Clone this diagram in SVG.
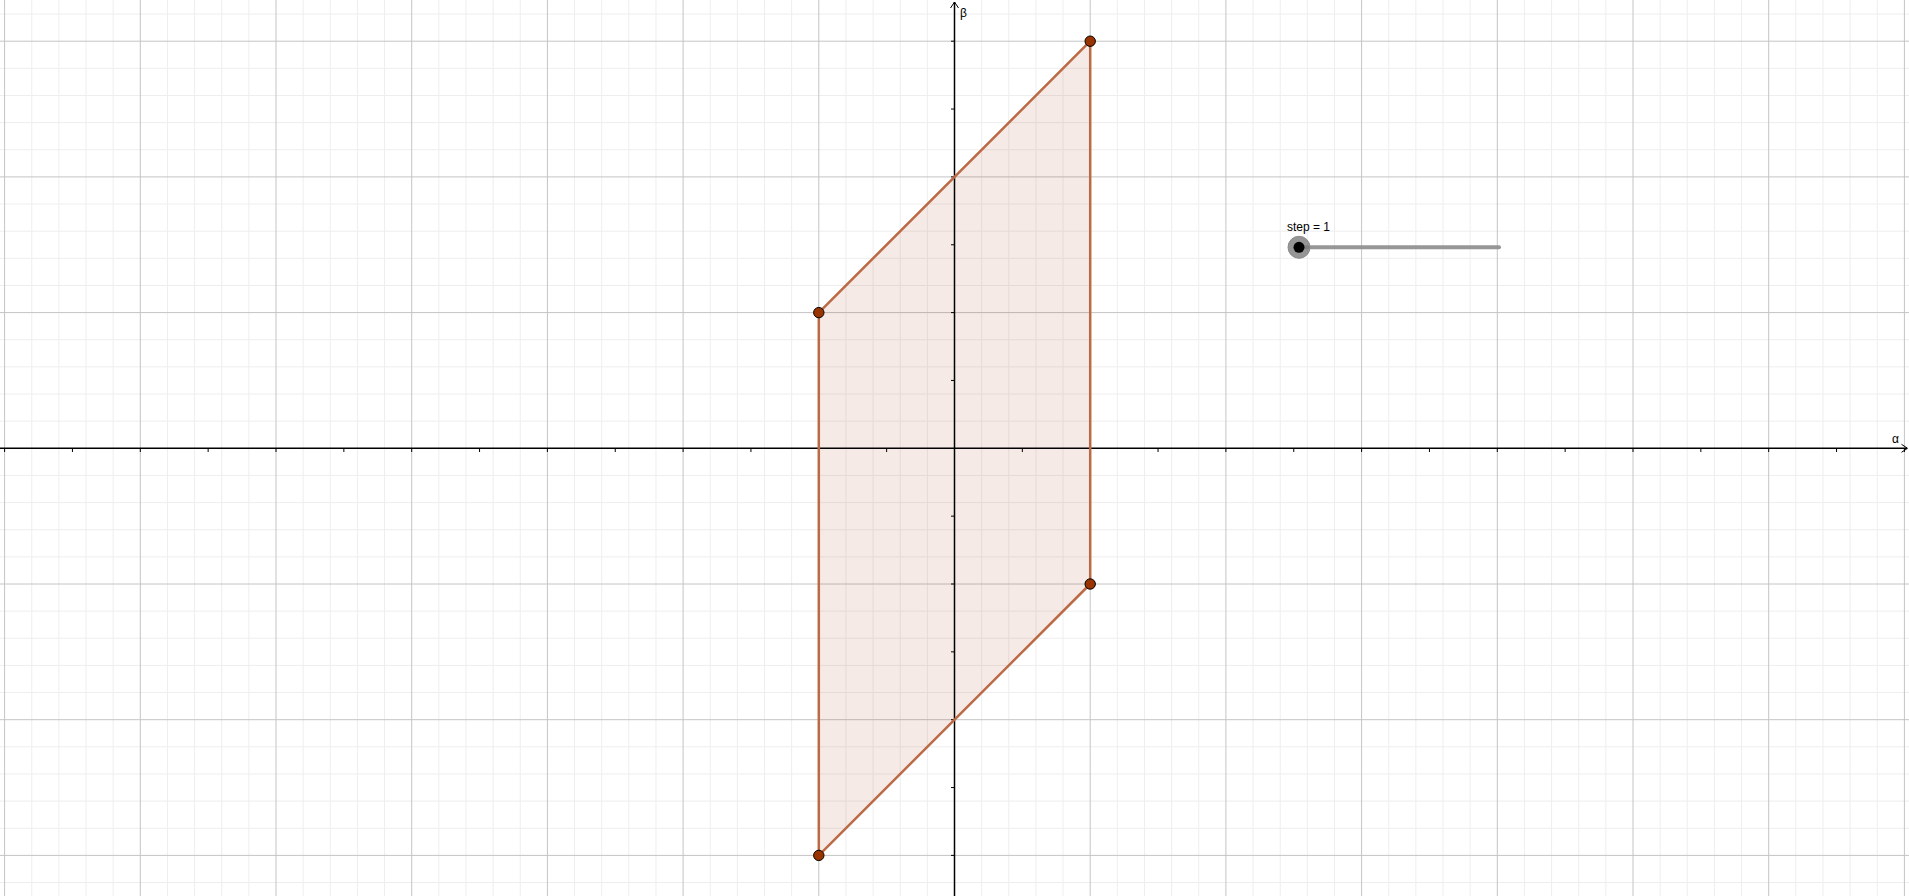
<svg xmlns="http://www.w3.org/2000/svg" width="1909" height="896" viewBox="0 0 1909 896">
<style>
.minor{stroke:#eeeeee;stroke-width:1;fill:none}
.major{stroke:#c4c4c4;stroke-width:1;fill:none}
.axis{stroke:#000;stroke-width:1.5;fill:none}
.tick{stroke:#000;stroke-width:1;fill:none}
.lbl{font-family:"Liberation Sans",Arial,sans-serif;font-size:12px;fill:#000}
.edge{stroke:#bc6a45;stroke-width:2.5;fill:none;stroke-linejoin:round}
.pt{fill:#993300;stroke:#000;stroke-width:1}
</style>
<rect width="1909" height="896" fill="#fff"/>
<g id="grid">
<path class="minor" d="M31.74,0V896M58.88,0V896M86.02,0V896M113.16,0V896M167.44,0V896M194.58,0V896M221.72,0V896M248.86,0V896M303.14,0V896M330.28,0V896M357.42,0V896M384.56,0V896M438.84,0V896M465.98,0V896M493.12,0V896M520.26,0V896M574.54,0V896M601.68,0V896M628.82,0V896M655.96,0V896M710.24,0V896M737.38,0V896M764.52,0V896M791.66,0V896M845.94,0V896M873.08,0V896M900.22,0V896M927.36,0V896M981.64,0V896M1008.78,0V896M1035.92,0V896M1063.06,0V896M1117.34,0V896M1144.48,0V896M1171.62,0V896M1198.76,0V896M1253.04,0V896M1280.18,0V896M1307.32,0V896M1334.46,0V896M1388.74,0V896M1415.88,0V896M1443.02,0V896M1470.16,0V896M1524.44,0V896M1551.58,0V896M1578.72,0V896M1605.86,0V896M1660.14,0V896M1687.28,0V896M1714.42,0V896M1741.56,0V896M1795.84,0V896M1822.98,0V896M1850.12,0V896M1877.26,0V896"/>
<path class="minor" d="M0,14.06H1909M0,68.34H1909M0,95.48H1909M0,122.62H1909M0,149.76H1909M0,204.04H1909M0,231.18H1909M0,258.32H1909M0,285.46H1909M0,339.74H1909M0,366.88H1909M0,394.02H1909M0,421.16H1909M0,475.44H1909M0,502.58H1909M0,529.72H1909M0,556.86H1909M0,611.14H1909M0,638.28H1909M0,665.42H1909M0,692.56H1909M0,746.84H1909M0,773.98H1909M0,801.12H1909M0,828.26H1909M0,882.54H1909"/>
<path class="major" d="M4.6,0V896M140.3,0V896M276,0V896M411.7,0V896M547.4,0V896M683.1,0V896M818.8,0V896M1090.2,0V896M1225.9,0V896M1361.6,0V896M1497.3,0V896M1633,0V896M1768.7,0V896M1904.4,0V896M0,41.2H1909M0,176.9H1909M0,312.6H1909M0,584H1909M0,719.7H1909M0,855.4H1909"/>
</g>
<g id="polygon">
<polygon points="1090.2,41.2 818.8,312.6 818.8,855.4 1090.2,584" fill="#993300" fill-opacity="0.1" stroke="none"/>
</g>
<g id="axes">
<path class="axis" d="M0,448.3H1907M954.5,896V2"/>
<path class="tick" d="M950.5,8L954.5,2L958.5,8M1901.5,444.3L1907.5,448.3L1901.5,452.3"/>
<path class="tick" d="M4.6,448V452M72.45,448V452M140.3,448V452M208.15,448V452M276,448V452M343.85,448V452M411.7,448V452M479.55,448V452M547.4,448V452M615.25,448V452M683.1,448V452M750.95,448V452M818.8,448V452M886.65,448V452M1022.35,448V452M1090.2,448V452M1158.05,448V452M1225.9,448V452M1293.75,448V452M1361.6,448V452M1429.45,448V452M1497.3,448V452M1565.15,448V452M1633,448V452M1700.85,448V452M1768.7,448V452M1836.55,448V452M1904.4,448V452"/>
<path class="tick" d="M951,41.2H955M951,109.05H955M951,176.9H955M951,244.75H955M951,312.6H955M951,380.45H955M951,516.15H955M951,584H955M951,651.85H955M951,719.7H955M951,787.55H955M951,855.4H955"/>
<text class="lbl" x="960" y="17">β</text>
<text class="lbl" x="1892" y="443">α</text>
</g>
<g id="connectors">
<polygon class="edge" points="1090.2,41.2 818.8,312.6 818.8,855.4 1090.2,584"/>
</g>
<g id="point-A"><circle class="pt" cx="1090.2" cy="41.2" r="5.2"/></g>
<g id="point-B"><circle class="pt" cx="818.8" cy="312.6" r="5.2"/></g>
<g id="point-C"><circle class="pt" cx="818.8" cy="855.4" r="5.2"/></g>
<g id="point-D"><circle class="pt" cx="1090.2" cy="584" r="5.2"/></g>
<g id="slider">
<text class="lbl" x="1287" y="231">step = 1</text>
<line x1="1299" y1="247.3" x2="1499" y2="247.3" stroke="#8c8c8c" stroke-width="4" stroke-linecap="round" stroke-opacity="0.9"/>
<circle cx="1299" cy="247.3" r="11" fill="#7a7a7a" fill-opacity="0.8" stroke="#8c8c8c" stroke-width="1"/>
<circle cx="1299" cy="247.3" r="5.5" fill="#000"/>
</g>
</svg>
